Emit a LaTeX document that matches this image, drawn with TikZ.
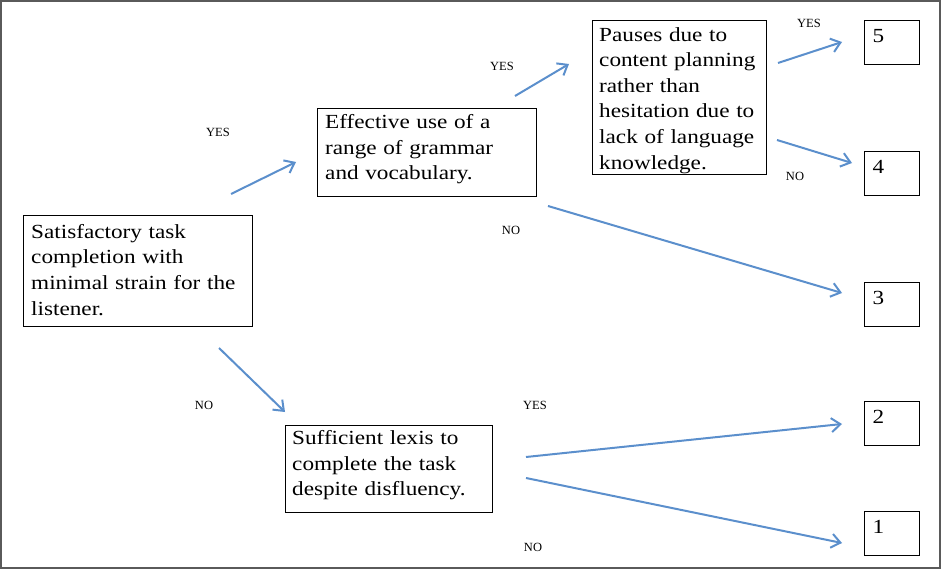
\documentclass[tikz,border=0pt]{standalone}
\usepackage{fontspec}
\setmainfont{Liberation Serif}
\newfontfamily\boxfont{Liberation Serif}[FakeStretch=1.16]
\usetikzlibrary{arrows.meta,calc}
\definecolor{arrblue}{RGB}{91,143,204}
\definecolor{framegray}{RGB}{90,90,90}
\tikzset{
  box/.style={draw=black, line width=1.2pt, rectangle, anchor=north west, inner sep=0pt},
  boxtext/.style={anchor=north west, align=left, inner sep=0pt,
    font=\boxfont\fontsize{20}{25.6}\selectfont},
  numbox/.style={draw=black, line width=1.2pt, rectangle, anchor=north west, align=left,
    font=\boxfont\fontsize{20}{25}\selectfont, inner xsep=8pt, inner ysep=0pt,
    text width=39pt, text height=22pt, text depth=22pt},
  lbl/.style={font=\fontsize{12.5}{14}\selectfont, inner sep=0pt},
  arr/.style={draw=arrblue, line width=2pt, -{Straight Barb[length=9pt,width=14pt,line width=2pt]}}
}
\begin{document}
\begin{tikzpicture}[x=1pt,y=-1pt]
\useasboundingbox (0,0) rectangle (941,569);
\draw[framegray, line width=1.5pt] (1,1) rectangle (940,568);

\node[box, minimum width=229pt, minimum height=111pt] (A) at (23,215) {};
\node[boxtext, text width=213pt] (At) at ($(A.north west)+(8,9)$)
  {Satisfactory task\\completion with\\minimal strain for the\\listener.};
\node[box, minimum width=219pt, minimum height=88pt] (B) at (317,108) {};
\node[boxtext, text width=203pt] (Bt) at ($(B.north west)+(8,6.5)$)
  {Effective use of a\\range of grammar\\and vocabulary.};
\node[box, minimum width=174pt, minimum height=154pt] (C) at (592,20) {};
\node[boxtext, text width=160pt] (Ct) at ($(C.north west)+(7,7)$)
  {Pauses due to\\content planning\\rather than\\hesitation due to\\lack of language\\knowledge.};
\node[box, minimum width=207pt, minimum height=87pt] (D) at (285,425) {};
\node[boxtext, text width=193pt] (Dt) at ($(D.north west)+(7,5.5)$)
  {Sufficient lexis to\\complete the task\\despite disfluency.};

\node[numbox] (n5) at (864,20) {5};
\node[numbox] (n4) at (864,151) {4};
\node[numbox] (n3) at (864,282) {3};
\node[numbox] (n2) at (864,401) {2};
\node[numbox] (n1) at (864,511) {1};

% arrow end points
\coordinate (ab1) at (231,194); \coordinate (ab2) at (296,162);
\coordinate (ad1) at (219,348); \coordinate (ad2) at (285,412);
\coordinate (bc1) at (515,96);  \coordinate (bc2) at (569,64);
\coordinate (b31) at (548,206); \coordinate (b32) at (842,293);
\coordinate (c51) at (778,63);  \coordinate (c52) at (842,42);
\coordinate (c41) at (777,140); \coordinate (c42) at (852,163);
\coordinate (d21) at (526,457); \coordinate (d22) at (842,424);
\coordinate (d11) at (526,478); \coordinate (d12) at (842,543);

\draw[arr] (ab1) -- (ab2);
\draw[arr] (ad1) -- (ad2);
\draw[arr] (bc1) -- (bc2);
\draw[arr] (b31) -- (b32);
\draw[arr] (c51) -- (c52);
\draw[arr] (c41) -- (c42);
\draw[arr] (d21) -- (d22);
\draw[arr] (d11) -- (d12);

\node[lbl] (l1) at (218,132) {YES};
\node[lbl] (l2) at (204,405) {NO};
\node[lbl] (l3) at (502,66) {YES};
\node[lbl] (l4) at (511,230) {NO};
\node[lbl] (l5) at (809,23) {YES};
\node[lbl] (l6) at (795,176) {NO};
\node[lbl] (l7) at (535,405) {YES};
\node[lbl] (l8) at (533,547) {NO};
\end{tikzpicture}
\end{document}
